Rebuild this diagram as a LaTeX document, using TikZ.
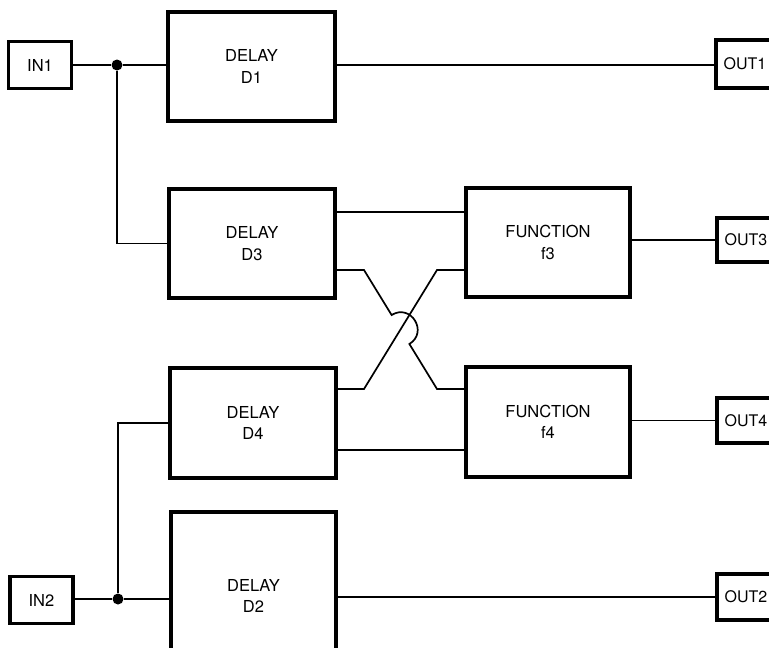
\documentclass[tikz,border=0pt]{standalone}
\usepackage{fontspec}
\setmainfont{TeX Gyre Heros}
\usetikzlibrary{calc}
\begin{document}
\begin{tikzpicture}[x=1pt,y=-1pt,
  box/.style={draw, line width=3.2pt, rectangle, inner sep=0pt, align=center,
    font=\fontsize{16.5}{21.5}\selectfont},
  outbox/.style={box, minimum width=58pt, font=\fontsize{16}{20}\selectfont},
  wire/.style={line width=1.7pt, line join=miter},
  junction/.style={circle, fill, inner sep=0pt, minimum size=11pt}]
\useasboundingbox (0,0) rectangle (769,648);
\clip (0,0) rectangle (769,648);
% boxes
\node[box, minimum width=63pt, minimum height=47pt] (in1) at (40,65) {IN1};
\node[box, minimum width=167pt, minimum height=109pt] (d1) at (251.5,66.5) {DELAY\\D1};
\node[outbox, minimum height=48pt] (out1) at (745,64) {OUT1};
\node[box, minimum width=166pt, minimum height=109pt] (d3) at (252,243.5) {DELAY\\D3};
\node[box, minimum width=164pt, minimum height=109pt] (f3) at (548,242.5) {FUNCTION\\f3};
\node[outbox, minimum height=44pt] (out3) at (746,240) {OUT3};
\node[box, minimum width=166pt, minimum height=110pt] (d4) at (253,423) {DELAY\\D4};
\node[box, minimum width=164pt, minimum height=110pt] (f4) at (548,422) {FUNCTION\\f4};
\node[outbox, minimum height=45pt] (out4) at (746,420.5) {OUT4};
\node[box, minimum width=165pt, minimum height=168pt] (d2) at (253.5,596) {DELAY\\D2};
\node[box, minimum width=63pt, minimum height=47pt] (in2) at (41.5,600) {IN2};
\node[outbox, minimum height=46pt] (out2) at (746,597) {OUT2};
% junctions
\node[junction] (j1) at (117,65) {};
\node[junction] (j2) at (118,599) {};
% level coordinates
\coordinate (yt3) at (0,212);
\coordinate (yb3) at (0,270);
\coordinate (yt4) at (0,389);
\coordinate (yb4) at (0,450);
% crossing bend points
\coordinate (a1) at (364,270);
\coordinate (a2) at (437,389);
\coordinate (hs) at (391.6,315);
\coordinate (he) at (409.4,344);
\coordinate (b1) at (364,389);
\coordinate (b2) at (437,270);
% row 1
\draw[wire] (in1) -- (j1) -- (d1.west |- j1);
\draw[wire] (d1.east |- j1) -- (out1.west |- j1);
\draw[wire] (j1) |- (d3.west);
% D3 / F3
\draw[wire] (d3.east |- yt3) -- (f3.west |- yt3);
\draw[wire] (f3.east |- out3) -- (out3.west);
% crossing
\draw[wire] (d3.east |- yb3) -- (a1) -- (hs)
  .. controls (410.9,303.1) and (428.7,332.1) .. (he) -- (a2) -- (f4.west |- yt4);
\draw[wire] (d4.east |- yt4) -- (b1) -- (b2) -- (f3.west |- yb3);
% D4 / F4
\draw[wire] (d4.east |- yb4) -- (f4.west |- yb4);
\draw[wire] (f4.east |- out4) -- (out4.west);
% row 2
\draw[wire] (in2.east |- j2) -- (j2) -- (d2.west |- j2);
\draw[wire] (j2) |- (d4.west);
\draw[wire] (d2.east |- out2) -- (out2.west);
\end{tikzpicture}
\end{document}
